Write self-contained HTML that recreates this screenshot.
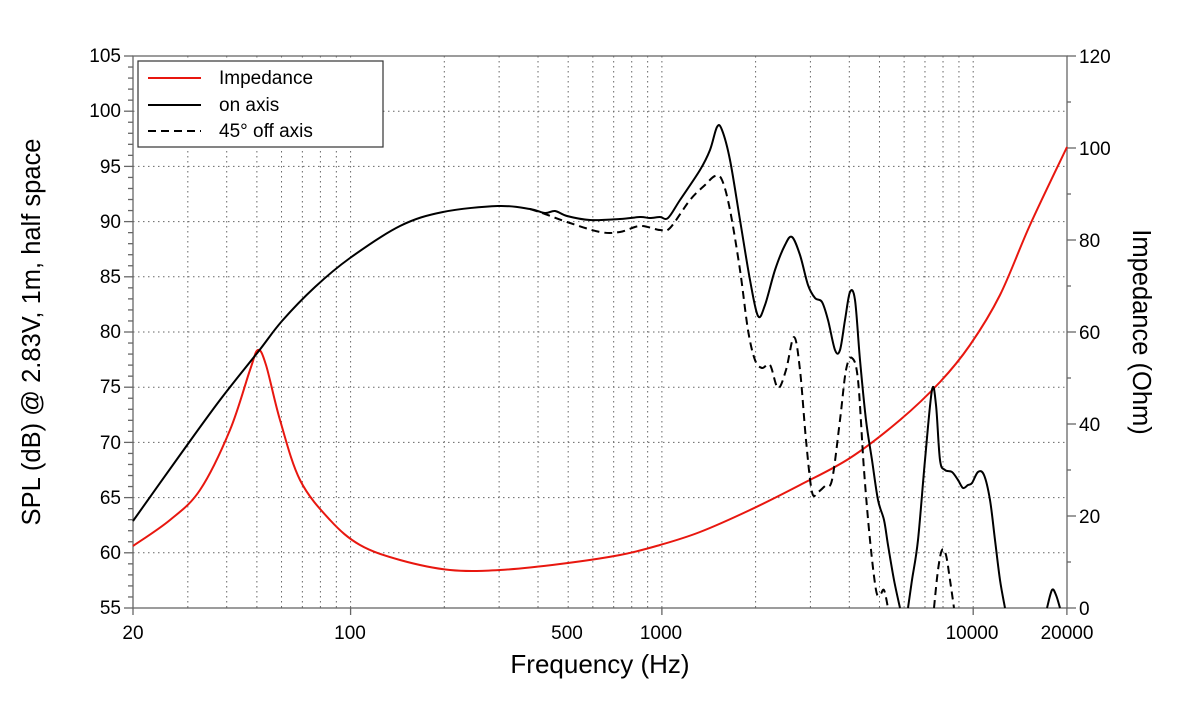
<!DOCTYPE html>
<html><head><meta charset="utf-8"><style>
body{margin:0;background:#fff;}
svg text{font-family:"Liberation Sans",sans-serif;fill:#000;}
</style></head><body>
<svg id="s" width="1200" height="720" viewBox="0 0 1200 720" xmlns="http://www.w3.org/2000/svg">
<g id="grid" stroke="#666" stroke-width="1" stroke-dasharray="1.5,3.5"></g>
<g id="ticks" stroke="#666" stroke-width="1.3"></g>
<rect x="133" y="56" width="934" height="552" fill="none" stroke="#666" stroke-width="1.3"/>
<g id="curves" fill="none"></g>
<g font-size="19">
<text x="121" y="62" text-anchor="end">105</text>
<text x="121" y="117" text-anchor="end">100</text>
<text x="121" y="173" text-anchor="end">95</text>
<text x="121" y="228" text-anchor="end">90</text>
<text x="121" y="283" text-anchor="end">85</text>
<text x="121" y="338" text-anchor="end">80</text>
<text x="121" y="393" text-anchor="end">75</text>
<text x="121" y="449" text-anchor="end">70</text>
<text x="121" y="504" text-anchor="end">65</text>
<text x="121" y="559" text-anchor="end">60</text>
<text x="121" y="614" text-anchor="end">55</text>
<text x="1079" y="63">120</text>
<text x="1079" y="155">100</text>
<text x="1079" y="247">80</text>
<text x="1079" y="339">60</text>
<text x="1079" y="431">40</text>
<text x="1079" y="523">20</text>
<text x="1079" y="615">0</text>
<text x="133" y="639" text-anchor="middle">20</text>
<text x="350" y="639" text-anchor="middle">100</text>
<text x="567" y="639" text-anchor="middle">500</text>
<text x="661" y="639" text-anchor="middle">1000</text>
<text x="972" y="639" text-anchor="middle">10000</text>
<text x="1067" y="639" text-anchor="middle">20000</text>
</g>
<text x="600" y="673" font-size="26" text-anchor="middle">Frequency (Hz)</text>
<text transform="translate(40,332) rotate(-90)" font-size="25.5" text-anchor="middle">SPL (dB) @ 2.83V, 1m, half space</text>
<text transform="translate(1133,332) rotate(90)" font-size="25.5" text-anchor="middle">Impedance (Ohm)</text>
<rect x="138" y="61" width="245" height="86" fill="#fff" stroke="#333" stroke-width="1.2"/>
<line x1="148" y1="78" x2="201" y2="78" stroke="#e8170f" stroke-width="2"/>
<line x1="148" y1="105" x2="201" y2="105" stroke="#000" stroke-width="2"/>
<line x1="148" y1="131" x2="201" y2="131" stroke="#000" stroke-width="2" stroke-dasharray="8,5"/>
<g font-size="19"><text x="219" y="84">Impedance</text><text x="219" y="111">on axis</text><text x="219" y="137">45° off axis</text></g>
</svg>
<script>
var L=133,D=311.3,T=56,B=608,R=1067;
function fx(f){return L+D*Math.log10(f/20);}
var ns="http://www.w3.org/2000/svg";
function ln(g,x1,y1,x2,y2){var e=document.createElementNS(ns,"line");e.setAttribute("x1",x1);e.setAttribute("y1",y1);e.setAttribute("x2",x2);e.setAttribute("y2",y2);document.getElementById(g).appendChild(e);}
var fs=[30,40,50,60,70,80,90,100,200,300,400,500,600,700,800,900,1000,2000,3000,4000,5000,6000,7000,8000,9000,10000];
fs.forEach(function(f){ln("grid",fx(f),T,fx(f),B);});
for(var v=60;v<=100;v+=5){var y=B-(v-55)*11.04;ln("grid",L,y,R,y);}
[20,100,1000,10000,20000].forEach(function(f){ln("ticks",fx(f),B,fx(f),B+7);});
for(var v=55;v<=105;v++){var y=B-(v-55)*11.04;ln("ticks",L,y,L-(v%5==0?9:5),y);}
for(var o=0;o<=120;o+=10){var y=B-o*4.6;ln("ticks",R,y,R+(o%20==0?9:4),y);}
function path(p){var d="M"+p[0][0]+","+p[0][1];for(var i=0;i<p.length-1;i++){var p0=p[i-1]||p[i],p1=p[i],p2=p[i+1],p3=p[i+2]||p2;
d+=" C"+(p1[0]+(p2[0]-p0[0])/6)+","+(p1[1]+(p2[1]-p0[1])/6)+" "+(p2[0]-(p3[0]-p1[0])/6)+","+(p2[1]-(p3[1]-p1[1])/6)+" "+p2[0]+","+p2[1];}return d;}
function add(p,col,dash){var e=document.createElementNS(ns,"path");e.setAttribute("d",path(p));e.setAttribute("stroke",col);e.setAttribute("stroke-width","2");if(dash)e.setAttribute("stroke-dasharray","8,5");document.getElementById("curves").appendChild(e);}
var on=[[133,521],[180,455],[220,400],[258,352],[282,321],[315,287],[350,258],[400,226],[443,212],[498,206],[530,209],[545,213],[555,211],[567,216],[590,220],[620,219],[640,217],[650,218],[660,217],[668,218],[680,200],[700,170],[710,150],[717,127],[722,130],[730,160],[740,220],[750,280],[758,316],[765,305],[775,270],[785,245],[792,237],[800,255],[808,285],[815,298],[822,302],[828,320],[835,350],[840,350],[845,320],[850,292],[855,300],[860,360],[866,420],[872,460],[878,500],[884,520],[888,545],[894,580],[900,608]];
var on2=[[908,608],[912,580],[918,540],[925,460],[932,390],[936,405],[940,460],[945,470],[952,472],[958,480],[963,488],[968,485],[972,483],[978,472],[984,475],[990,500],[995,540],[1000,580],[1005,608]];
var on3=[[1047,608],[1052,590],[1056,595],[1060,608]];
var off=[[530,209],[545,214],[567,222],[600,232],[620,232],[640,226],[660,230],[670,228],[690,200],[705,185],[715,176],[722,180],[730,210],[740,270],[748,330],[755,360],[762,368],[770,365],[778,388],[786,370],[794,337],[800,370],[806,440],[812,492],[818,492],[825,486],[832,480],[840,420],[846,370],[852,358],[858,380],[864,470],[870,540],[876,590],[880,595],[884,590],[888,608]];
var off2=[[934,608],[938,570],[942,550],[946,555],[950,580],[954,608]];
var imp=[[133,546],[170,520],[200,490],[230,430],[250,370],[258,350],[266,365],[280,420],[300,480],[330,520],[360,545],[400,560],[450,570],[500,570],[560,564],[620,555],[660,545],[700,532],[750,510],[800,485],[850,458],[900,420],[940,382],[970,345],[1000,295],[1030,225],[1067,147]];
add(imp,"#e8170f");add(on,"#000");add(on2,"#000");add(on3,"#000");add(off,"#000",1);add(off2,"#000",1);
</script>
</body></html>
